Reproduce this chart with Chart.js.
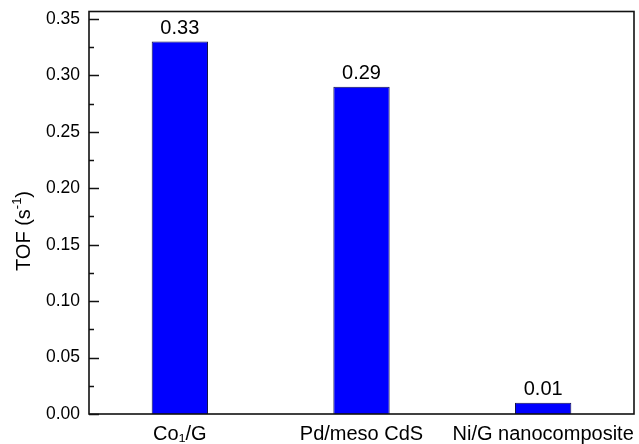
<!DOCTYPE html>
<html>
<head>
<meta charset="utf-8">
<script src="https://cdn.jsdelivr.net/npm/chart.js@4/dist/chart.umd.min.js"></script>
<style>
  html, body { margin: 0; padding: 0; background: #fff; }
  #wrap { width: 639px; height: 444px; }
</style>
</head>
<body>
<div id="wrap"><canvas id="c" width="639" height="444"></canvas></div>
<script>
// Turnover frequency of the three catalysts
const categories = ['Co\u2081/G', 'Pd/meso CdS', 'Ni/G nanocomposite'];
const tofValues = [0.33, 0.29, 0.01];
const yTickValues = [0, 0.05, 0.10, 0.15, 0.20, 0.25, 0.30, 0.35];
const yMin = 0;
const yMax = 0.3566;
const yStep = 0.05;

const FONT = '"Liberation Sans", Arial, sans-serif';

// Inward major/minor ticks, the closed frame and the rotated axis title
const framePlugin = {
  id: 'frame',
  afterDraw(chart) {
    const { ctx, chartArea: a } = chart;
    const y = chart.scales.y;
    ctx.save();
    ctx.strokeStyle = '#111';
    ctx.lineWidth = 1.6;
    ctx.strokeRect(a.left, a.top, a.right - a.left, a.bottom - a.top);
    ctx.lineWidth = 1.5;
    ctx.beginPath();
    yTickValues.forEach((v, i) => {
      const py = Math.round(y.getPixelForValue(v)) + 0.5;
      ctx.moveTo(a.left, py);
      ctx.lineTo(a.left + 10, py);
      if (i < yTickValues.length - 1) {
        const pm = Math.round(y.getPixelForValue(v + yStep / 2)) + 0.5;
        ctx.moveTo(a.left, pm);
        ctx.lineTo(a.left + 5, pm);
      }
    });
    ctx.stroke();

    // y title: TOF (s^-1)
    ctx.translate(30, 231);
    ctx.rotate(-Math.PI / 2);
    ctx.fillStyle = '#000';
    ctx.textBaseline = 'alphabetic';
    const big = '20px ' + FONT;
    const small = '13px ' + FONT;
    const parts = [['TOF (s', big, 0], ['-1', small, -9], [')', big, 0]];
    let total = 0;
    parts.forEach(p => { ctx.font = p[1]; total += ctx.measureText(p[0]).width; });
    let x = -total / 2;
    parts.forEach(p => {
      ctx.font = p[1];
      ctx.fillText(p[0], x, p[2]);
      x += ctx.measureText(p[0]).width;
    });
    ctx.restore();
  }
};

// Value labels above each bar
const valueLabels = {
  id: 'valueLabels',
  afterDatasetsDraw(chart) {
    const { ctx } = chart;
    const meta = chart.getDatasetMeta(0);
    ctx.save();
    ctx.font = '20px ' + FONT;
    ctx.fillStyle = '#000';
    ctx.textAlign = 'center';
    ctx.textBaseline = 'alphabetic';
    meta.data.forEach((bar, i) => {
      ctx.fillText(tofValues[i].toFixed(2), bar.x, bar.y - 8);
    });
    ctx.restore();
  }
};

new Chart(document.getElementById('c'), {
  type: 'bar',
  data: {
    labels: categories,
    datasets: [{
      data: tofValues,
      backgroundColor: '#0000FF',
      borderColor: '#10104a',
      borderWidth: 1,
      barPercentage: 0.31,
      categoryPercentage: 1
    }]
  },
  options: {
    responsive: false,
    animation: false,
    layout: { padding: { top: 11, right: 5, left: 0, bottom: 0 } },
    plugins: { legend: { display: false }, tooltip: { enabled: false } },
    scales: {
      x: {
        grid: { display: false },
        border: { display: false },
        ticks: { color: '#000', font: { family: FONT, size: 20 }, padding: 0, maxRotation: 0, autoSkip: false },
        afterFit(s) { s.height = 30; }
      },
      y: {
        min: yMin,
        max: yMax,
        grid: { display: false },
        border: { display: false },
        ticks: {
          color: '#000',
          font: { family: FONT, size: 17.5 },
          padding: 1,
          callback: v => Number(v).toFixed(2)
        },
        afterBuildTicks(s) {
          s.ticks = yTickValues.map(v => ({ value: v }));
        },
        afterFit(s) { s.width = 89; }
      }
    }
  },
  plugins: [framePlugin, valueLabels]
});
</script>
</body>
</html>
